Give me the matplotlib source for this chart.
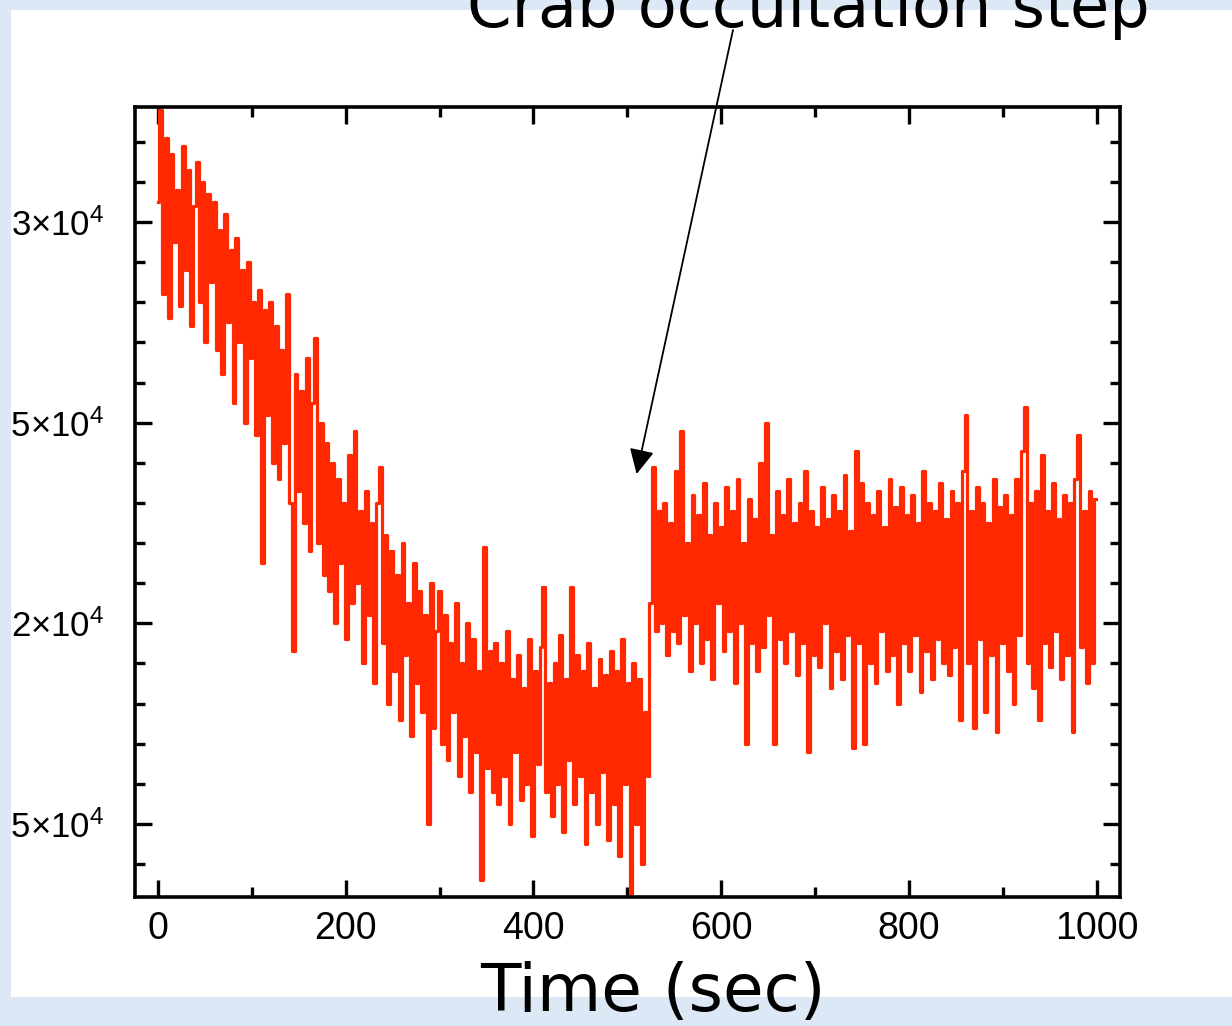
"""Crab occultation step: count rate vs time, slide screenshot style."""
import numpy as np
import matplotlib
matplotlib.use("Agg")
import matplotlib.pyplot as plt
from matplotlib.patches import Rectangle
from matplotlib.ticker import FixedLocator, MultipleLocator

plt.rcParams["mathtext.fontset"] = "custom"
plt.rcParams["mathtext.rm"] = "Liberation Sans"
plt.rcParams["mathtext.it"] = "Liberation Sans:italic"

# count rate, in units of 1e4, one value per 3 s bin
BIN_SEC = 3
rate_1e4 = [
    # 0-57 s
    3.05, 3.28, 2.82, 3.21, 2.76, 3.17, 2.95, 3.08, 2.79, 3.19, 2.88, 3.13, 2.74, 3.04, 3.15, 2.80, 3.10, 2.70, 3.07, 2.85,
    # 60-117 s
    3.05, 2.68, 2.98, 2.62, 3.02, 2.75, 2.93, 2.55, 2.96, 2.70, 2.88, 2.50, 2.90, 2.66, 2.80, 2.47, 2.83, 2.15, 2.78, 2.52,
    # 120-177 s
    2.80, 2.40, 2.74, 2.36, 2.68, 2.45, 2.82, 2.30, 1.93, 2.62, 2.33, 2.58, 2.25, 2.66, 2.18, 2.55, 2.71, 2.20, 2.50, 2.12,
    # 180-237 s
    2.45, 2.08, 2.40, 2.00, 2.36, 2.15, 2.30, 1.96, 2.42, 2.05, 2.48, 2.10, 2.28, 1.90, 2.33, 2.02, 2.25, 1.85, 2.30, 2.39,
    # 240-297 s
    1.95, 2.22, 1.80, 2.18, 1.88, 2.12, 1.76, 2.20, 1.92, 2.05, 1.72, 2.15, 1.85, 2.08, 1.78, 2.02, 1.50, 2.10, 1.74, 1.98,
    # 300-357 s
    2.08, 1.70, 2.02, 1.66, 1.95, 1.78, 2.05, 1.62, 1.90, 1.72, 2.00, 1.58, 1.96, 1.68, 1.88, 1.36, 2.19, 1.64, 1.93, 1.58,
    # 360-417 s
    1.95, 1.55, 1.90, 1.62, 1.98, 1.50, 1.86, 1.68, 1.92, 1.56, 1.84, 1.60, 1.96, 1.47, 1.88, 1.65, 1.94, 2.09, 1.58, 1.85,
    # 420-477 s
    1.52, 1.90, 1.60, 1.97, 1.48, 1.86, 1.66, 2.09, 1.55, 1.92, 1.62, 1.88, 1.45, 1.95, 1.58, 1.84, 1.50, 1.91, 1.63, 1.87,
    # 480-537 s (occultation step at ~525 s)
    1.46, 1.93, 1.55, 1.88, 1.42, 1.96, 1.60, 1.85, 1.32, 1.90, 1.50, 1.86, 1.40, 1.78, 1.62, 2.05, 2.39, 1.98, 2.28, 2.00,
    # 540-597 s
    2.30, 1.92, 2.25, 1.98, 2.38, 1.95, 2.48, 2.02, 2.20, 1.88, 2.32, 2.00, 2.27, 1.90, 2.35, 1.96, 2.22, 1.86, 2.30, 2.05,
    # 600-657 s
    2.24, 1.93, 2.34, 1.98, 2.28, 1.85, 2.36, 2.00, 2.20, 1.70, 2.31, 1.95, 2.26, 1.88, 2.40, 1.94, 2.50, 2.02, 2.22, 1.70,
    # 660-717 s
    2.33, 1.96, 2.27, 1.90, 2.36, 1.98, 2.25, 1.87, 2.30, 1.95, 2.38, 1.68, 2.28, 1.92, 2.24, 1.89, 2.34, 2.00, 2.26, 1.84,
    # 720-777 s
    2.32, 1.93, 2.28, 1.86, 2.37, 1.97, 2.23, 1.69, 2.43, 1.95, 2.35, 1.70, 2.30, 1.90, 2.27, 1.85, 2.33, 1.98, 2.24, 1.88,
    # 780-837 s
    2.36, 1.92, 2.29, 1.80, 2.34, 1.95, 2.27, 1.88, 2.32, 1.97, 2.25, 1.83, 2.38, 1.93, 2.30, 1.86, 2.28, 1.96, 2.35, 1.90,
    # 840-897 s
    2.26, 1.87, 2.33, 1.94, 2.30, 1.76, 2.38, 2.52, 1.90, 2.28, 1.74, 2.34, 1.96, 2.30, 1.78, 2.25, 1.92, 2.36, 1.73, 2.29,
    # 900-957 s
    1.95, 2.32, 1.88, 2.27, 1.80, 2.36, 1.97, 2.43, 2.54, 1.90, 2.30, 1.84, 2.33, 1.76, 2.42, 1.95, 2.28, 1.89, 2.35, 1.98,
    # 960-999 s
    2.26, 1.86, 2.32, 1.92, 2.30, 1.73, 2.36, 2.47, 1.94, 2.28, 1.85, 2.33, 1.90, 2.31,
]

y_ticks = [1.5e4, 2e4, 2.5e4, 3e4]
y_tick_labels = [r"$1.5{\times}10^{4}$", r"$2{\times}10^{4}$",
                 r"$2.5{\times}10^{4}$", r"$3{\times}10^{4}$"]
x_ticks = [0, 200, 400, 600, 800, 1000]
step_time = 510
step_rate = 2.372e4

title_text = "Crab occultation step"
xlabel_text = "Time (sec)"

SLIDE_BLUE = "#dce8f6"
LINE_RED = "#ff2800"

W, H = 1232, 1026
fig = plt.figure(figsize=(W / 100, H / 100), dpi=100, facecolor="white")
ax = fig.add_axes([135 / W, 1 - 897 / H, 985 / W, 790 / H])

rate = np.array(rate_1e4) * 1e4
t = np.arange(len(rate)) * BIN_SEC
ax.plot(t, rate, color=LINE_RED, lw=2.3, drawstyle="steps-mid")

ax.set_xlim(-24.5, 1025)
ax.set_ylim(1.318e4, 3.2865e4)

ax.xaxis.set_major_locator(FixedLocator(x_ticks))
ax.xaxis.set_minor_locator(MultipleLocator(100))
ax.yaxis.set_major_locator(FixedLocator(y_ticks))
ax.yaxis.set_minor_locator(MultipleLocator(1000))
ax.set_yticklabels(y_tick_labels)
ax.tick_params(which="both", direction="in", top=True, right=True, width=2.4)
ax.tick_params(which="major", length=12)
ax.tick_params(which="minor", length=7)
ax.tick_params(axis="x", pad=10, labelsize=27)
ax.tick_params(axis="y", pad=22, labelsize=25)
for lab in ax.get_xticklabels() + ax.get_yticklabels():
    lab.set_fontfamily("Liberation Sans")
for sp in ax.spines.values():
    sp.set_linewidth(2.6)

ax.annotate("", xy=(step_time, step_rate), xycoords="data",
            xytext=(733 / W, 1 - 30 / H), textcoords="figure fraction",
            annotation_clip=False,
            arrowprops=dict(arrowstyle="-|>", color="black", lw=1.3,
                            mutation_scale=38, shrinkA=0, shrinkB=0))

# slide background strips around the pasted chart image
for x0, y0, w, h in [(0, 0, 11, H), (0, H - 10, W, 10), (0, 0, W, 29)]:
    fig.patches.append(Rectangle((x0 / W, y0 / H), w / W, h / H,
                                 transform=fig.transFigure, facecolor=SLIDE_BLUE,
                                 edgecolor="none", zorder=5))

fig.text(467 / W, 1 - 27 / H, title_text, fontsize=46, family="DejaVu Sans",
         ha="left", va="baseline", zorder=10)
fig.text(480 / W, 1 - 1011 / H, xlabel_text, fontsize=47.5, family="DejaVu Sans",
         ha="left", va="baseline", zorder=10)

fig.savefig("out.png", dpi=100, facecolor=fig.get_facecolor())
